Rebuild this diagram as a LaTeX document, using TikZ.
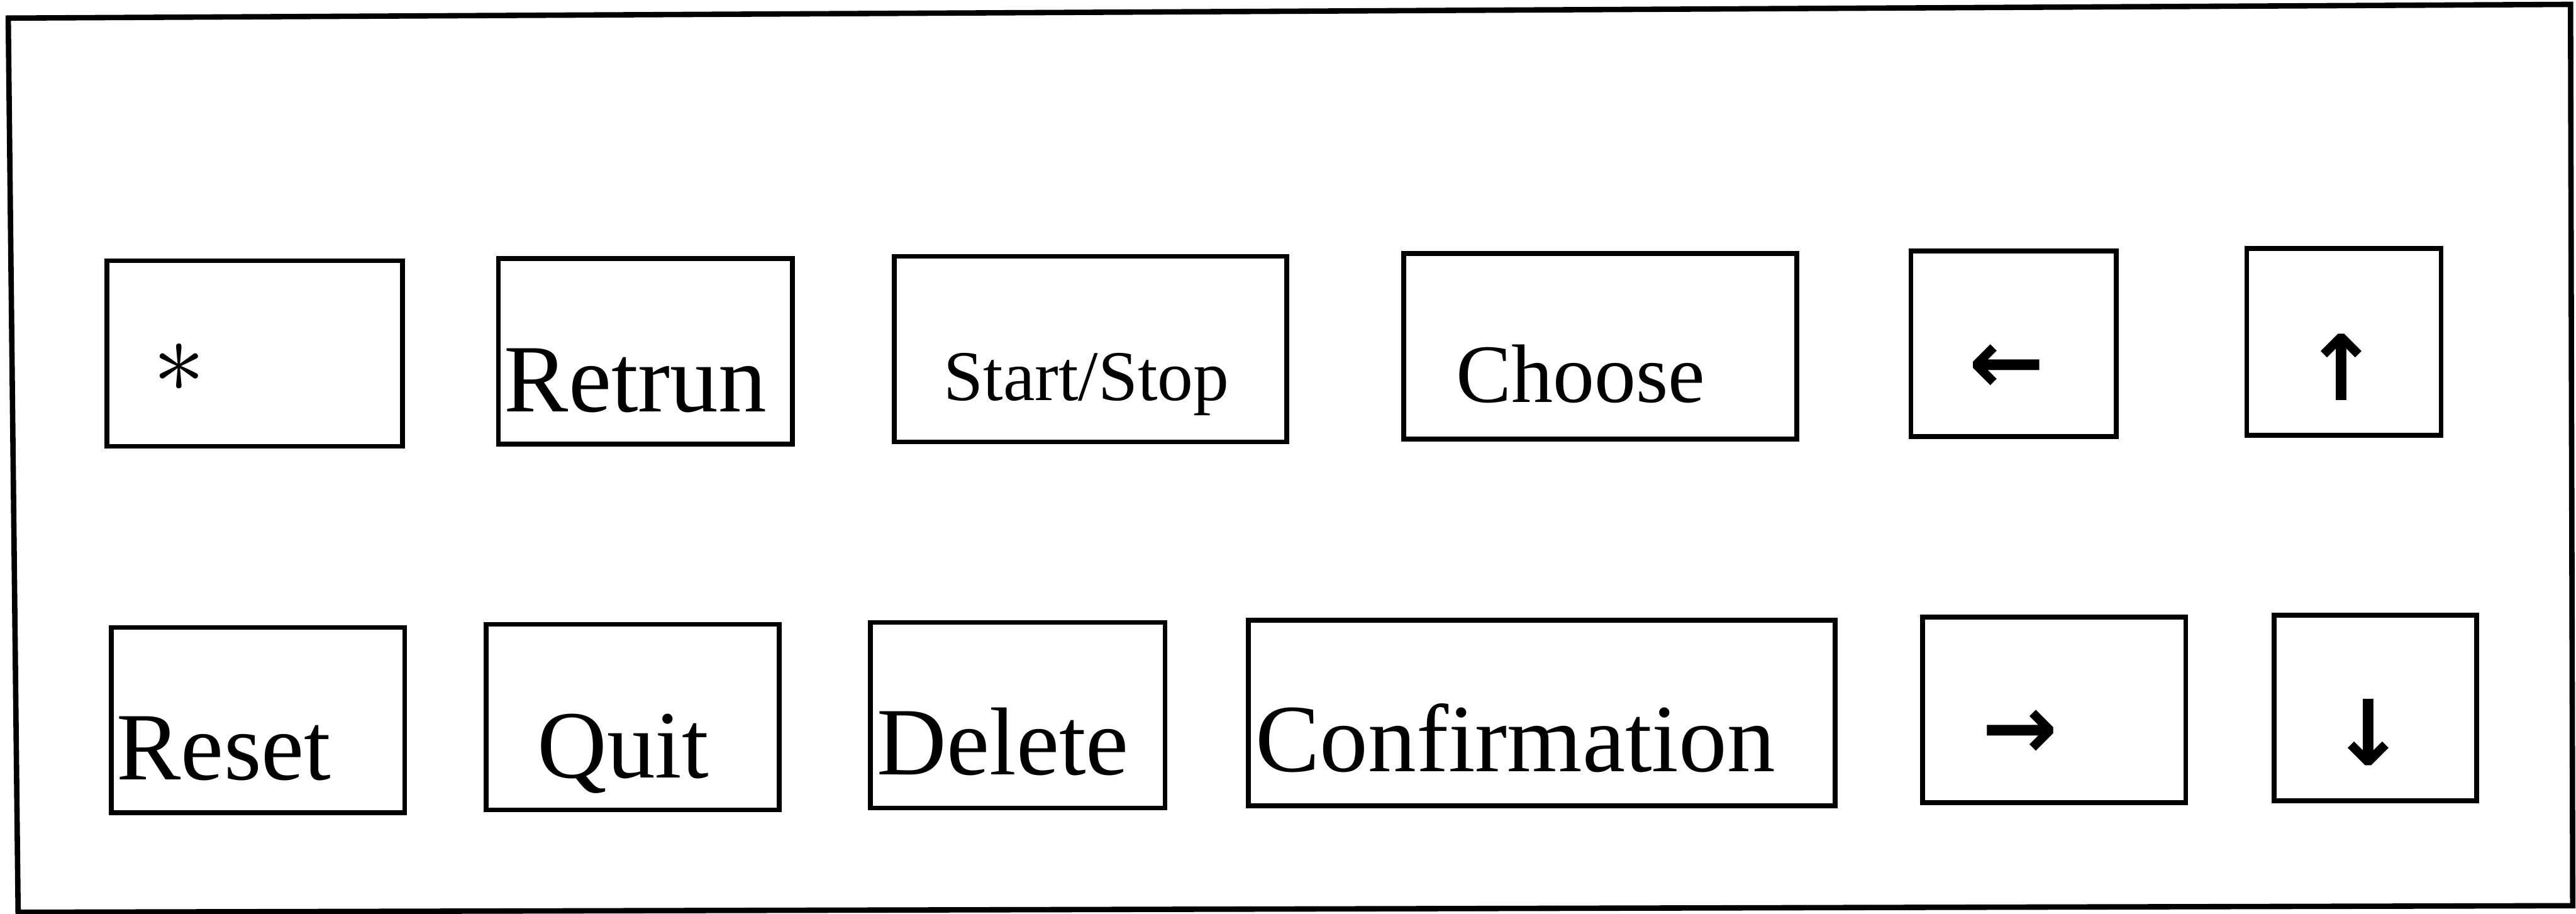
\documentclass[tikz,border=0pt]{standalone}
\usepackage{fontspec}
\setmainfont{Liberation Serif}
\newfontfamily\arrowfont{DejaVu Sans}

\begin{document}
\begin{tikzpicture}[
    key/.style={draw, line width=2.5pt, inner sep=0pt, minimum height=3.38cm},
    lbl/.style={anchor=base, inner sep=0pt, font=\fontsize{50}{60}\selectfont},
    arr/.style={inner sep=0pt, font=\arrowfont\bfseries\fontsize{47}{50}\selectfont}]

    \useasboundingbox (0,0) rectangle (46.94,16.65);

    % panel frame (the scan is slightly turned)
    \draw[line width=2.8pt] (0.15,16.32) -- (46.84,16.57) -- (46.88,0.15) -- (0.33,0.03) -- cycle;

    % upper row of keys
    \node[key, minimum width=5.39cm] (star) at (4.64,10.21) {};
    \node[key, minimum width=5.36cm] (retrun) at (11.76,10.25) {};
    \node[key, minimum width=7.15cm] (startstop) at (19.87,10.29) {};
    \node[key, minimum width=7.16cm] (choose) at (29.16,10.34) {};
    \node[key, minimum width=3.74cm] (left) at (36.69,10.385) {};
    \node[key, minimum width=3.54cm, minimum height=3.40cm] (up) at (42.71,10.42) {};

    % lower row of keys
    \node[key, minimum width=5.35cm] (reset) at (4.70,3.53) {};
    \node[key, minimum width=5.34cm] (quit) at (11.53,3.585) {};
    \node[key, minimum width=5.37cm] (delete) at (18.545,3.62) {};
    \node[key, minimum width=10.69cm] (confirm) at (28.095,3.66) {};
    \node[key, minimum width=4.80cm] (right) at (37.43,3.72) {};
    \node[key, minimum width=3.69cm] (down) at (43.285,3.755) {};

    % key labels
    \node[inner sep=0pt, scale=5.4] (t-star) at (3.27,9.95) {$\ast$};
    \node[lbl] (t-retrun) at (11.58,9.15) {Retrun};
    \node[lbl, font=\fontsize{37}{44}\selectfont] (t-startstop) at (19.795,9.35) {Start/Stop};
    \node[lbl, font=\fontsize{43}{50}\selectfont] (t-choose) at (28.80,9.32) {Choose};
    \node[arr] (t-left) at (36.57,9.93) {←};
    \node[arr] (t-up) at (42.66,9.96) {↑};

    \node[lbl] (t-reset) at (4.08,2.44) {Reset};
    \node[lbl] (t-quit) at (11.355,2.48) {Quit};
    \node[lbl] (t-delete) at (18.275,2.54) {Delete};
    \node[lbl] (t-confirm) at (27.615,2.60) {Confirmation};
    \node[arr] (t-right) at (36.81,3.27) {→};
    \node[arr] (t-down) at (43.16,3.31) {↓};
\end{tikzpicture}
\end{document}
